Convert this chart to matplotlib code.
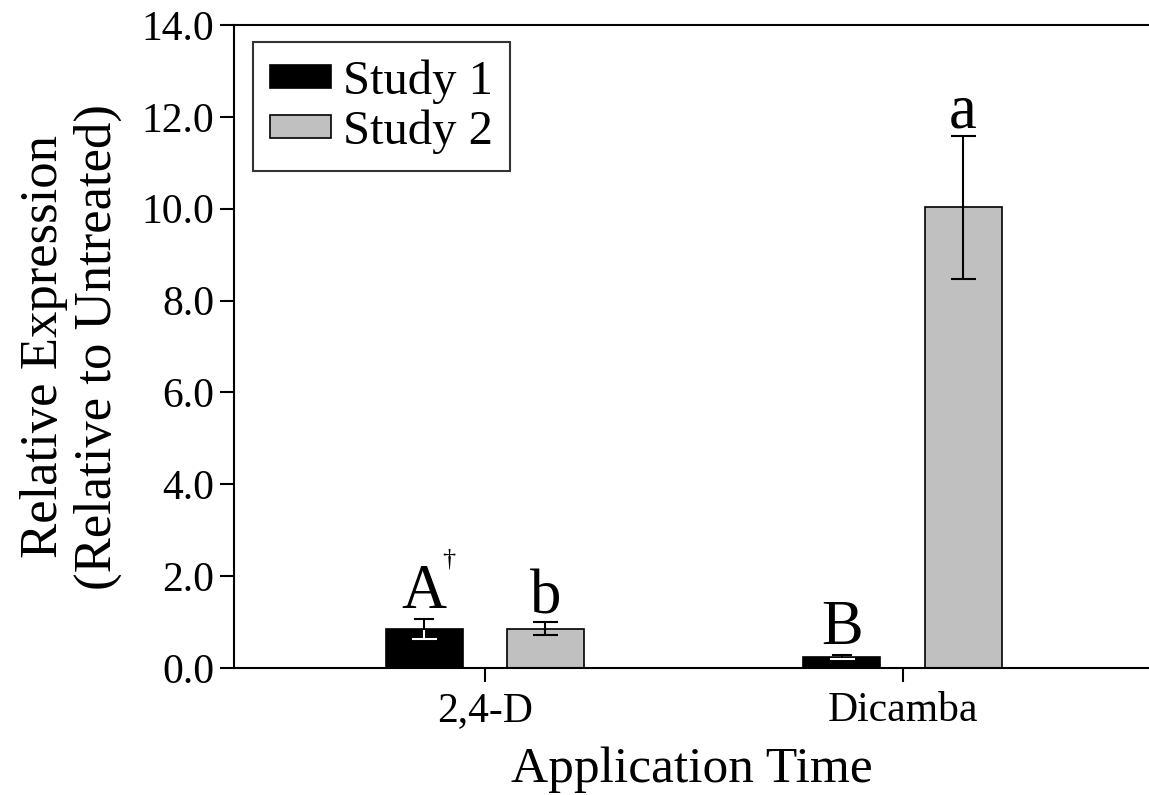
import numpy as np
import matplotlib
matplotlib.use('Agg')
import matplotlib.pyplot as plt

plt.rcParams['font.family'] = ['Liberation Serif', 'DejaVu Serif']

# data
groups = ['2,4-D', 'Dicamba']
study1 = [0.85, 0.24]
study1_err = [0.21, 0.05]
study2 = [0.86, 10.03]
study2_err = [0.14, 1.55]
letters1 = ['A', 'B']
letters2 = ['b', 'a']

x = np.arange(len(groups))
w = 0.184
off = 0.145

fig = plt.figure(figsize=(11.49, 7.95), dpi=100)
ax = fig.add_axes([0.2037, 0.1597, 0.7963, 0.8089])

ekw = dict(elinewidth=1.5, capthick=1.5, capsize=9, ecolor='black')
ax.bar(x - off, study1, w, yerr=study1_err, color='black', edgecolor='black',
       linewidth=1.2, label='Study 1', error_kw=dict(ekw, ecolor='white'))
ax.bar(x + off, study2, w, yerr=study2_err, color='#c0c0c0', edgecolor='black',
       linewidth=1.2, label='Study 2', error_kw=ekw)

# error bars on the black bars are white inside, black above the bar
for xi, v, e in zip(x - off, study1, study1_err):
    ax.plot([xi, xi], [v, v + e], color='black', lw=1.5, zorder=3)
    ax.plot([xi - 0.022, xi + 0.022], [v + e, v + e], color='black', lw=1.5, zorder=3)

for xi, v, e, t in zip(x - off, study1, study1_err, letters1):
    ax.annotate(t, (xi, v + e), xytext=(0, 8), textcoords='offset points',
                ha='center', va='baseline', fontsize=45)
for xi, v, e, t in zip(x + off, study2, study2_err, letters2):
    ax.annotate(t, (xi, v + e), xytext=(0, 6), textcoords='offset points',
                ha='center', va='baseline', fontsize=45)
# dagger after the first letter
ax.annotate('\u2020', (x[0] - off, study1[0] + study1_err[0]), xytext=(18, 39),
            textcoords='offset points', ha='center', va='baseline', fontsize=19)

ax.set_xlim(-0.6, 1.59)
ax.set_ylim(0, 14)
ax.set_yticks(np.arange(0, 14.1, 2))
ax.yaxis.set_major_formatter(plt.FormatStrFormatter('%.1f'))
ax.set_xticks(x)
ax.set_xticklabels(groups)
ax.tick_params(axis='both', direction='out', length=10, width=1.5,
               labelsize=30, pad=4)
ax.tick_params(axis='x', pad=7)

for s in ['left', 'bottom', 'top']:
    ax.spines[s].set_linewidth(1.5)
ax.spines['right'].set_visible(False)

ax.set_xlabel('Application Time', fontsize=37, labelpad=12)
ax.set_ylabel('Relative Expression\n(Relative to Untreated)', fontsize=38,
              linespacing=1.15, labelpad=14)

leg = ax.legend(loc='upper left', bbox_to_anchor=(0.021, 0.973), fontsize=35,
                frameon=True, fancybox=False, edgecolor='black',
                handlelength=1.25, handleheight=0.35, handletextpad=0.25,
                borderpad=0.35, labelspacing=0.12, borderaxespad=0)
leg.get_frame().set_linewidth(1.5)

fig.savefig('out.png', dpi=100)
